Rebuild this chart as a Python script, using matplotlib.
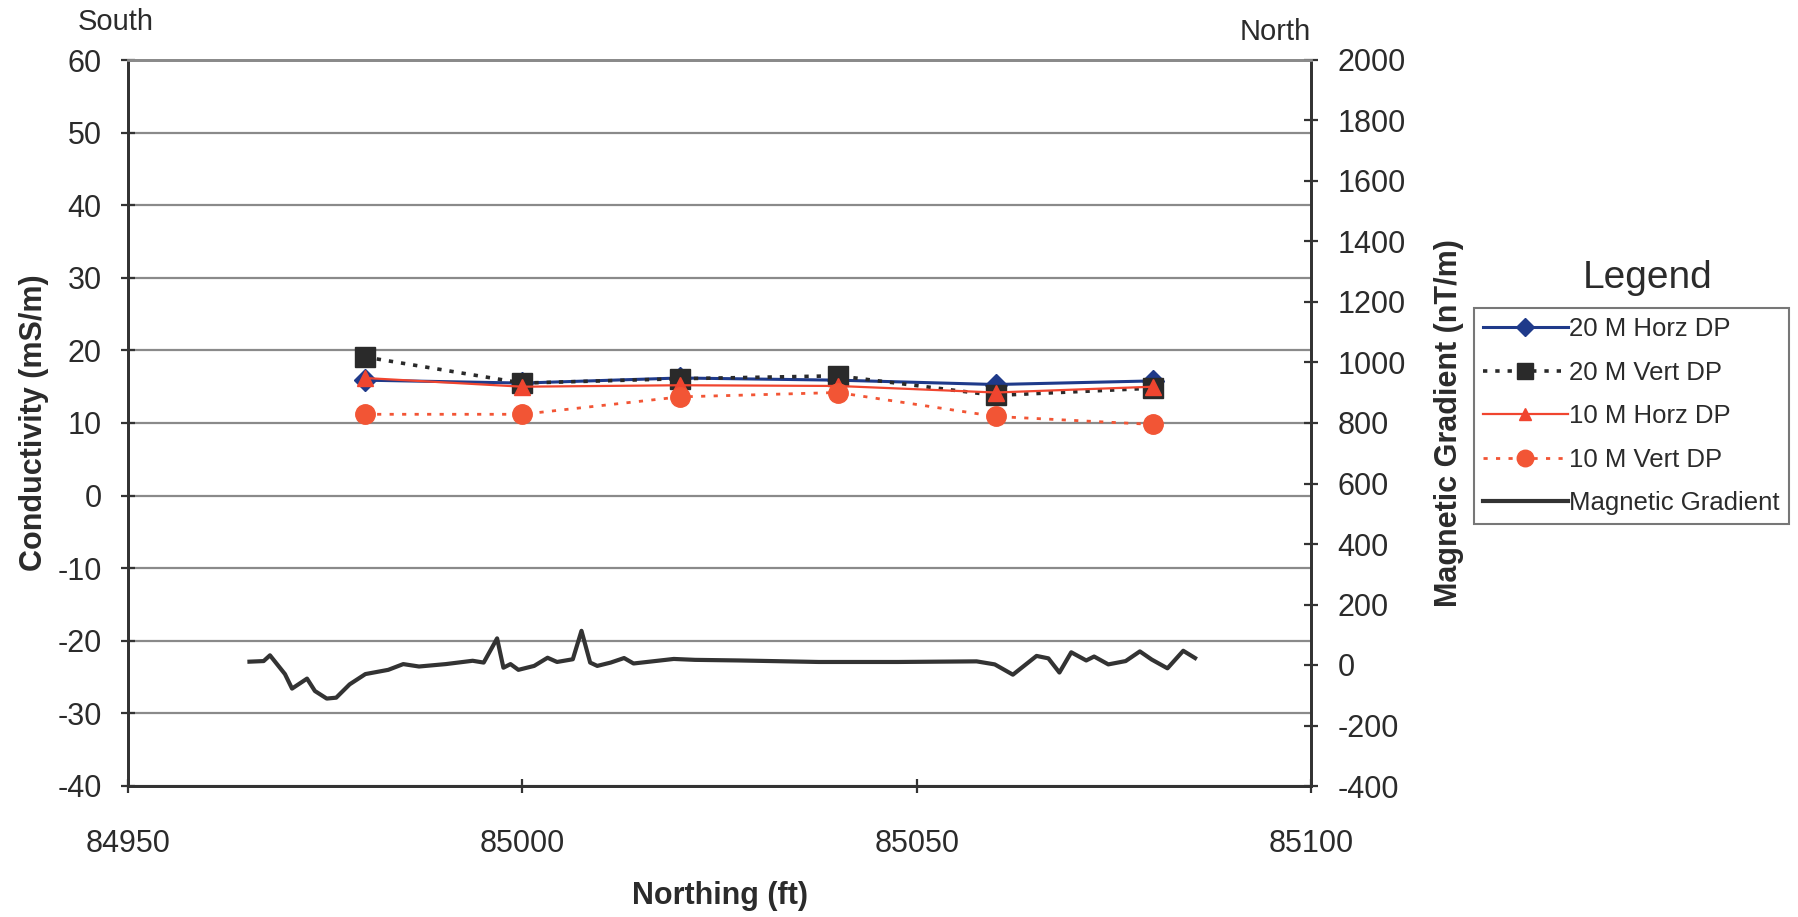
import matplotlib
matplotlib.use("Agg")
import matplotlib.pyplot as plt
from matplotlib.lines import Line2D

plt.rcParams['font.family'] = ['Liberation Sans', 'DejaVu Sans']
plt.rcParams['axes.unicode_minus'] = False

# survey stations (ft) and conductivity readings (mS/m)
northing = [84980, 85000, 85020, 85040, 85060, 85080]
horz_20m = [15.9, 15.5, 16.2, 15.9, 15.3, 15.8]
vert_20m = [19.1, 15.5, 16.1, 16.5, 13.8, 14.8]
horz_10m = [16.2, 15.0, 15.2, 15.1, 14.2, 15.0]
vert_10m = [11.2, 11.2, 13.6, 14.2, 10.9, 9.8]

# magnetic gradient trace (nT/m)
mag_x = [84965.4, 84967.2, 84968.0, 84969.9, 84970.8, 84972.7, 84973.7, 84975.2,
         84976.4, 84978.1, 84980.1, 84983.0, 84984.9, 84986.9, 84990.3, 84993.7,
         84995.1, 84996.8, 84997.6, 84998.5, 84999.5, 85001.5, 85003.2, 85004.4,
         85006.4, 85007.5, 85008.6, 85009.5, 85011.2, 85012.9, 85014.1, 85019.2,
         85021.9, 85027.5, 85037.6, 85047.6, 85057.6, 85059.9, 85062.2, 85065.2,
         85066.7, 85068.1, 85069.6, 85071.5, 85072.5, 85074.3, 85076.5, 85078.3,
         85079.8, 85081.8, 85083.8, 85085.3]
mag_y = [11, 13, 32, -30, -78, -45, -86, -111,
         -108, -64, -30, -16, 3, -5, 3, 14,
         8, 88, -9, 3, -16, -3, 24, 10,
         19, 113, 8, -3, 8, 23, 5, 20,
         17, 15, 10, 10, 12, 2, -32, 30,
         22, -25, 42, 15, 28, 2, 13, 45,
         18, -11, 47, 23]

txt = '#2b2b2b'
W, H = 1798, 917
fig = plt.figure(figsize=(W / 100, H / 100), dpi=100)
ax = fig.add_axes([128 / W, 1 - 786 / H, 1183 / W, 726 / H])
ax2 = ax.twinx()

ax.set_xlim(84950, 85100)
ax.set_ylim(-40, 60)
ax2.set_ylim(-400, 2000)
ax.set_xticks([84950, 85000, 85050, 85100])
ax.set_yticks(range(-40, 61, 10))
ax2.set_yticks(range(-400, 2001, 200))
ax.grid(axis='y', color='#8a8a8a', lw=1.6)
ax.set_axisbelow(True)

ax.plot(northing, horz_20m, color='#1f3a8a', lw=2.2, marker='D', ms=11,
        label='20 M Horz DP', zorder=3)
ax.plot(northing, vert_20m, color='#2a2a2a', lw=2.6, ls=(0, (1.2, 2.2)),
        marker='s', ms=14, label='20 M Vert DP', zorder=4)
ax.plot(northing, horz_10m, color='#f0452f', lw=1.6, marker='^', ms=11,
        label='10 M Horz DP', zorder=5)
ax.plot(northing, vert_10m, color='#f25535', lw=2.0, ls=(0, (1.5, 3)),
        marker='o', ms=14, label='10 M Vert DP', zorder=5)
ax2.plot(mag_x, mag_y, color='#333333', lw=3.0)

for a in (ax, ax2):
    for s in a.spines.values():
        s.set_color('#333333')
        s.set_linewidth(2)
    a.spines['top'].set_color('#8a8a8a')
    a.tick_params(labelsize=22, labelcolor=txt, color='#333333', width=1.6,
                  length=10, direction='inout')
ax.tick_params(axis='y', pad=14)
ax2.tick_params(axis='y', pad=14)
ax.tick_params(axis='x', pad=26)

ax.set_xlabel('Northing (ft)', fontsize=22, fontweight='bold', color=txt,
              labelpad=16)
ax.set_ylabel('Conductivity (mS/m)', fontsize=22, fontweight='bold', color=txt,
              labelpad=6)
ax2.set_ylabel('Magnetic Gradient (nT/m)', fontsize=22, fontweight='bold',
               color=txt, labelpad=20)

fig.text(116 / W, 1 - 22 / H, 'South', fontsize=21, color=txt,
         ha='center', va='center')
fig.text(1275 / W, 1 - 32 / H, 'North', fontsize=21, color=txt,
         ha='center', va='center')
fig.text(1648 / W, 1 - 278 / H, 'Legend', fontsize=28, color=txt,
         ha='center', va='center')

handles, labels = ax.get_legend_handles_labels()
handles.append(Line2D([], [], color='#333333', lw=3.0))
labels.append('Magnetic Gradient')
leg = fig.legend(handles, labels, loc='upper left',
                 bbox_to_anchor=(1474 / W, 1 - 308 / H),
                 bbox_transform=fig.transFigure, fontsize=18.5,
                 frameon=True, fancybox=False, edgecolor='#555555',
                 handlelength=3.3, handletextpad=0.05, borderpad=0.35,
                 labelspacing=0.76, borderaxespad=0, markerscale=0.85)
leg.get_frame().set_linewidth(1.5)
for t in leg.get_texts():
    t.set_color(txt)

fig.savefig('out.png', dpi=100)
